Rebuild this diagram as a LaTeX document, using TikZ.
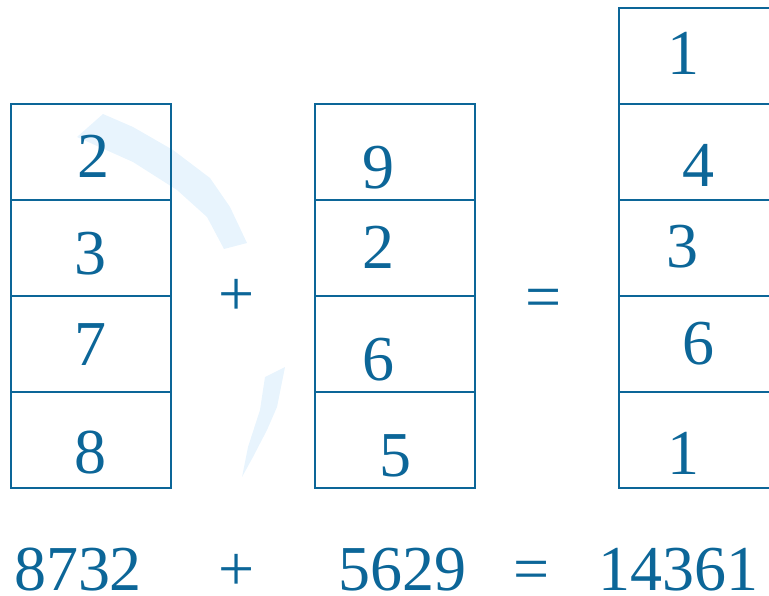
\documentclass[tikz,border=0pt]{standalone}
\usepackage{fontspec}
\setmainfont{Liberation Serif}
\definecolor{ink}{RGB}{12,102,152}
\definecolor{faint}{RGB}{232,244,253}
\begin{document}
\begin{tikzpicture}[x=1pt,y=-1pt,
  cell/.style={draw=ink,line width=2.2pt,minimum width=160pt,minimum height=96pt,inner sep=0pt,outer sep=0pt,anchor=north west},
  dig/.style={text=ink,font=\fontsize{64}{64}\selectfont,anchor=base,inner sep=0pt}]
\clip (0,0) rectangle (769,596);
% faint arc
\fill[faint] (77,137) -- (103,114) -- (133,127) -- (173,150) -- (210,178) -- (230,207) -- (247,243)
  -- (224,249) -- (207,217) -- (177,190) -- (133,162) -- cycle;
\fill[faint] (265,377) -- (285,367) -- (277,407) -- (267,430) -- (253,457) -- (242,477)
  -- (248,447) -- (260,410) -- (263,390) -- cycle;
% left stack
\node[cell] (l1) at (11,104) {};
\node[cell] (l2) at (11,200) {};
\node[cell] (l3) at (11,296) {};
\node[cell] (l4) at (11,392) {};
% middle stack
\node[cell] (m1) at (315,104) {};
\node[cell] (m2) at (315,200) {};
\node[cell] (m3) at (315,296) {};
\node[cell] (m4) at (315,392) {};
% right stack
\node[cell,minimum width=200pt] (r0) at (619,8) {};
\node[cell,minimum width=200pt] (r1) at (619,104) {};
\node[cell,minimum width=200pt] (r2) at (619,200) {};
\node[cell,minimum width=200pt] (r3) at (619,296) {};
\node[cell,minimum width=200pt] (r4) at (619,392) {};
% digits
\node[dig] (d1) at (93,178) {2};
\node[dig] (d2) at (90,275) {3};
\node[dig] (d3) at (90,365) {7};
\node[dig] (d4) at (90,473) {8};
\node[dig] (e1) at (378,189) {9};
\node[dig] (e2) at (378,269) {2};
\node[dig] (e3) at (378,381) {6};
\node[dig] (e4) at (395,476) {5};
\node[dig] (f0) at (683,75) {1};
\node[dig] (f1) at (698,187) {4};
\node[dig] (f2) at (682,268) {3};
\node[dig] (f3) at (698,364) {6};
\node[dig] (f4) at (683,474) {1};
\node[dig] (plus1) at (237,316) {+};
\node[dig] (eq1) at (544,319) {=};
% bottom equation
\node[dig] (n1) at (78,590) {8732};
\node[dig] (plus2) at (237,590) {+};
\node[dig] (n2) at (402,590) {5629};
\node[dig] (eq2) at (532,590) {=};
\node[dig] (n3) at (678,590) {14361};
\end{tikzpicture}
\end{document}
